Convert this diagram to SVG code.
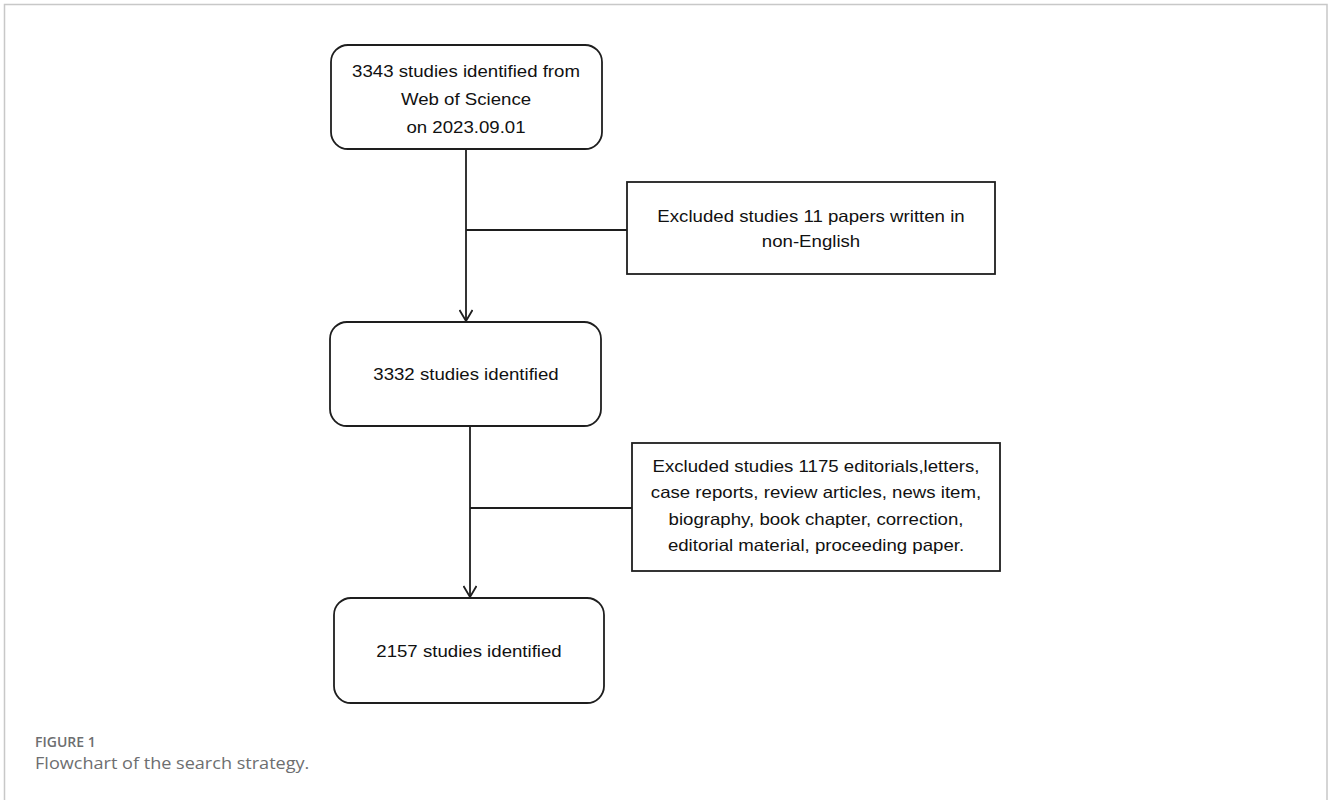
<svg xmlns="http://www.w3.org/2000/svg" width="1328" height="800" viewBox="0 0 1328 800">
<style>
.node{fill:#fff;stroke:#1e1e1e;stroke-width:1.8}
.t{font-family:"Liberation Sans",Arial,Helvetica,sans-serif;font-size:16.5px;fill:#111;text-anchor:middle}
.conn{fill:none;stroke:#1e1e1e;stroke-width:1.8}
.cap1{font-family:"Open Sans","Noto Sans",sans-serif;font-size:14px;font-weight:600;fill:#6d6e70}
.cap2{font-family:"Open Sans","Noto Sans",sans-serif;font-size:16px;fill:#6d6e70}
</style>
<defs>
<marker id="arr" markerUnits="userSpaceOnUse" markerWidth="16" markerHeight="14" refX="14" refY="7" orient="auto">
<path d="M3,0.5 L14,7 L3,13.5" fill="none" stroke="#1e1e1e" stroke-width="1.8"/>
</marker>
</defs>
<rect width="1328" height="800" fill="#fff"/>
<path d="M4.5,800 V4.5 H1327 V800" fill="none" stroke="#c8c8c8" stroke-width="1.5"/>
<g id="connectors">
<line class="conn" x1="466" y1="149" x2="466" y2="321" marker-end="url(#arr)"/>
<line class="conn" x1="466" y1="230" x2="627" y2="230"/>
<line class="conn" x1="470" y1="426" x2="470" y2="597" marker-end="url(#arr)"/>
<line class="conn" x1="470" y1="508" x2="632" y2="508"/>
</g>
<g id="n1">
<rect class="node" x="331" y="45" width="271" height="104" rx="17"/>
<text class="t" transform="translate(466 0) scale(1.13 1)" x="0" y="77">3343 studies identified from</text>
<text class="t" transform="translate(466 0) scale(1.13 1)" x="0" y="105">Web of Science</text>
<text class="t" transform="translate(466 0) scale(1.13 1)" x="0" y="133">on 2023.09.01</text>
</g>
<g id="e1">
<rect class="node" x="627" y="182" width="368" height="92"/>
<text class="t" transform="translate(811 0) scale(1.13 1)" x="0" y="222">Excluded studies 11 papers written in</text>
<text class="t" transform="translate(811 0) scale(1.13 1)" x="0" y="247">non-English</text>
</g>
<g id="n2">
<rect class="node" x="330" y="322" width="271" height="104" rx="17"/>
<text class="t" transform="translate(466 0) scale(1.13 1)" x="0" y="380">3332 studies identified</text>
</g>
<g id="e2">
<rect class="node" x="632" y="443" width="368" height="128"/>
<text class="t" transform="translate(816 0) scale(1.13 1)" x="0" y="472">Excluded studies 1175 editorials,letters,</text>
<text class="t" transform="translate(816 0) scale(1.13 1)" x="0" y="498">case reports, review articles, news item,</text>
<text class="t" transform="translate(816 0) scale(1.13 1)" x="0" y="525">biography, book chapter, correction,</text>
<text class="t" transform="translate(816 0) scale(1.13 1)" x="0" y="551">editorial material, proceeding paper.</text>
</g>
<g id="n3">
<rect class="node" x="334" y="598" width="270" height="105" rx="17"/>
<text class="t" transform="translate(469 0) scale(1.13 1)" x="0" y="657">2157 studies identified</text>
</g>
<g id="caption">
<text class="cap1" x="35" y="747">FIGURE 1</text>
<text class="cap2" transform="translate(35 0) scale(1.13 1)" x="0" y="769">Flowchart of the search strategy.</text>
</g>
</svg>
